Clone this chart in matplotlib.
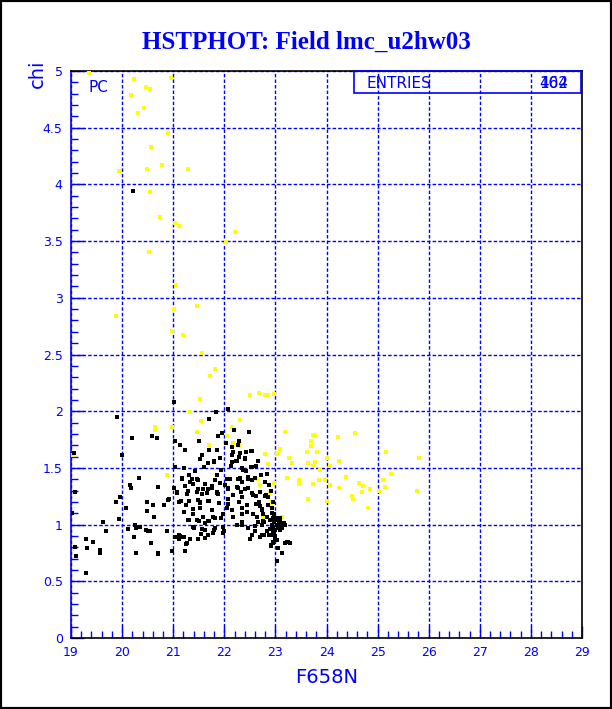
import matplotlib
matplotlib.use("Agg")
import matplotlib.pyplot as plt
from matplotlib.patches import Rectangle
from matplotlib.ticker import MultipleLocator

# chi vs F658N magnitude, yellow = rejected, black = accepted stars
yellow_x = [19.35, 20.23, 20.96, 20.47, 20.55, 20.17, 20.43, 20.31, 20.90, 20.57,
            19.94, 20.49, 20.78, 21.29, 20.55, 20.74, 21.04, 21.11, 22.21, 22.03,
            20.53, 21.05, 21.46, 21.02, 19.88, 20.98, 21.19, 21.56, 21.82, 21.72,
            21.52, 22.50, 22.68, 22.80, 22.86, 22.97, 21.33, 21.54, 22.31, 20.64,
            20.64, 20.98, 21.47, 22.15, 22.05, 21.70, 22.29, 22.29, 23.19, 23.73,
            23.78, 23.70, 23.09, 22.80, 23.03, 23.62, 23.26, 23.32, 23.78, 23.64,
            20.88, 23.73, 23.22, 23.46, 23.46, 23.73, 23.85, 22.64, 22.70, 22.97,
            22.91, 22.89, 23.64, 22.76, 23.13, 22.91, 24.22, 24.56, 23.70, 23.81,
            25.16, 24.01, 24.07, 24.24, 25.81, 23.87, 25.26, 23.97, 24.38, 24.07,
            24.24, 24.64, 24.71, 25.10, 25.14, 25.03, 24.85, 24.69, 24.50, 24.52,
            25.77, 24.01, 24.81, 19.04, 22.17, 22.86]
yellow_y = [4.98, 4.93, 4.94, 4.86, 4.84, 4.79, 4.67, 4.63, 4.45, 4.33,
            4.12, 4.14, 4.17, 4.14, 3.93, 3.71, 3.66, 3.63, 3.58, 3.49,
            3.40, 3.11, 2.93, 2.90, 2.84, 2.71, 2.67, 2.51, 2.37, 2.31,
            2.11, 2.14, 2.16, 2.14, 2.14, 2.15, 1.99, 1.91, 1.92, 1.86,
            1.83, 1.86, 1.82, 1.86, 1.78, 1.70, 1.71, 1.69, 1.82, 1.79,
            1.78, 1.74, 1.67, 1.62, 1.62, 1.64, 1.59, 1.54, 1.55, 1.54,
            1.44, 1.52, 1.41, 1.39, 1.36, 1.36, 1.39, 1.40, 1.35, 1.37,
            1.20, 1.28, 1.23, 1.07, 1.07, 1.16, 1.77, 1.81, 1.69, 1.64,
            1.64, 1.59, 1.52, 1.56, 1.59, 1.48, 1.45, 1.39, 1.42, 1.35,
            1.32, 1.37, 1.34, 1.39, 1.33, 1.30, 1.31, 1.29, 1.25, 1.23,
            1.30, 1.21, 1.15, 1.61, 1.72, 1.53]

black_x = [20.21, 19.90, 20.19, 20.59, 20.68, 19.06, 20.00, 20.33, 20.15, 20.18,
           20.70, 19.08, 19.96, 19.88, 20.49, 20.60, 20.82, 20.08, 20.49, 19.02,
           20.62, 19.94, 19.63, 20.12, 20.27, 20.33, 20.47, 19.68, 20.55, 20.23,
           19.29, 19.43, 20.57, 19.08, 19.31, 19.57, 19.57, 20.27, 20.70, 19.10,
           19.29, 21.02, 21.84, 22.07, 21.70, 22.48, 21.96, 21.04, 21.13, 21.50,
           21.23, 21.86, 22.52, 22.17, 21.56, 22.31, 22.23, 22.41, 22.66, 21.68,
           21.80, 21.94, 21.04, 21.21, 21.60, 22.13, 22.37, 22.54, 20.33, 21.43,
           21.17, 21.31, 21.47, 21.86, 22.05, 22.31, 22.46, 22.60, 22.72, 20.15,
           20.70, 21.39, 21.58, 21.76, 21.92, 22.07, 22.25, 22.41, 21.07, 21.27,
           21.47, 21.66, 21.86, 22.17, 22.35, 22.56, 22.70, 22.80, 20.92, 21.11,
           21.31, 21.52, 21.70, 21.90, 22.07, 22.29, 22.44, 22.62, 22.74, 21.21,
           21.39, 21.58, 21.78, 21.98, 22.17, 22.35, 22.64, 22.84, 22.95, 21.31,
           21.50, 21.70, 22.76, 22.89, 20.35, 21.39, 21.62, 21.82, 21.98, 22.35,
           22.60, 22.74, 22.89, 23.03, 23.13, 23.19, 23.09, 22.95, 22.78, 22.54,
           22.50, 22.70, 22.87, 22.99, 21.98, 21.78, 21.54, 21.11, 21.19, 20.88,
           20.51, 20.25, 19.63, 21.11, 21.49, 21.62, 21.27, 22.95, 22.91, 22.99,
           23.22, 23.28, 23.13, 23.03, 20.98, 20.70, 21.23, 20.57, 21.88, 22.19,
           22.03, 21.70, 22.15, 21.92, 22.15, 21.52, 21.68, 21.80, 22.15, 22.29,
           22.27, 22.43, 22.54, 22.29, 22.41, 22.25, 22.66, 22.62, 22.35, 22.52,
           22.43, 22.27, 22.35, 22.46, 22.54, 22.27, 22.33, 22.46, 22.54, 22.62,
           22.68, 22.70, 22.74, 22.76, 22.82, 22.86, 22.86, 22.93, 22.97, 23.03,
           23.09, 23.15, 23.13, 23.05, 22.99, 22.93, 22.95, 22.91, 23.03, 23.19,
           23.25, 23.05, 23.13, 22.35, 22.44, 22.56, 22.46, 22.60, 22.74, 22.84,
           22.25, 22.35, 22.66, 22.78, 21.17, 21.37, 21.49, 21.82, 22.11, 21.33,
           21.62, 21.76, 22.01, 21.23, 21.02, 21.07, 21.29, 21.49, 21.68, 21.86,
           22.07, 21.56, 21.88, 20.90, 21.15, 21.49, 21.52, 21.68, 22.07, 21.25,
           21.39, 21.52, 21.76, 21.82, 21.94, 22.05, 22.15, 21.29, 21.47, 21.68,
           21.62, 21.41, 21.56, 21.80, 21.99, 21.13, 21.21, 21.68, 21.33, 21.04,
           21.25, 20.98, 22.97, 23.01, 23.07, 23.11, 23.17, 22.99, 23.05, 23.09,
           22.93, 22.95, 22.97, 22.94, 22.96, 22.92, 23.00, 22.88, 22.84, 22.80]
black_y = [3.94, 1.95, 1.76, 1.78, 1.76, 1.63, 1.61, 1.41, 1.35, 1.32,
           1.33, 1.29, 1.24, 1.20, 1.20, 1.17, 1.17, 1.15, 1.12, 1.10,
           1.07, 1.05, 1.02, 0.96, 0.97, 0.98, 0.95, 0.94, 0.94, 0.89,
           0.87, 0.85, 0.84, 0.80, 0.79, 0.78, 0.75, 0.75, 0.74, 0.72,
           0.57, 2.08, 1.99, 2.02, 1.93, 1.82, 1.81, 1.74, 1.70, 1.74,
           1.66, 1.66, 1.65, 1.64, 1.61, 1.63, 1.56, 1.59, 1.56, 1.54,
           1.56, 1.48, 1.51, 1.50, 1.51, 1.52, 1.48, 1.51, 1.41, 1.47,
           1.41, 1.44, 1.40, 1.44, 1.40, 1.41, 1.42, 1.41, 1.44, 1.35,
           1.33, 1.36, 1.31, 1.32, 1.37, 1.32, 1.33, 1.31, 1.28, 1.27,
           1.29, 1.28, 1.28, 1.26, 1.24, 1.26, 1.29, 1.25, 1.23, 1.20,
           1.21, 1.19, 1.21, 1.19, 1.18, 1.20, 1.17, 1.18, 1.14, 1.11,
           1.09, 1.07, 1.07, 1.09, 1.07, 1.09, 1.07, 1.07, 1.06, 1.04,
           1.03, 1.03, 1.03, 1.04, 0.98, 0.98, 0.95, 0.97, 0.98, 1.00,
           0.99, 1.00, 0.96, 1.00, 0.98, 1.00, 0.95, 0.94, 0.91, 0.91,
           0.87, 0.89, 0.91, 0.89, 0.93, 0.93, 0.92, 0.91, 0.89, 0.94,
           0.94, 1.00, 1.02, 0.87, 0.87, 0.88, 0.84, 0.84, 0.81, 0.86,
           0.85, 0.84, 0.75, 0.68, 0.77, 0.75, 0.77, 0.84, 1.78, 1.83,
           1.72, 1.66, 1.68, 1.59, 1.61, 1.58, 1.54, 1.55, 1.55, 1.74,
           1.70, 1.64, 1.65, 1.60, 1.58, 1.56, 1.56, 1.52, 1.50, 1.51,
           1.47, 1.40, 1.38, 1.40, 1.39, 1.32, 1.29, 1.32, 1.28, 1.25,
           1.20, 1.16, 1.13, 1.09, 1.26, 1.24, 1.17, 1.15, 1.09, 1.06,
           1.02, 1.00, 0.97, 1.00, 0.95, 0.91, 0.85, 0.82, 0.86, 0.84,
           0.85, 0.79, 0.75, 1.15, 1.11, 1.09, 0.97, 0.94, 0.91, 0.94,
           1.00, 1.02, 1.02, 1.02, 1.40, 1.40, 1.39, 1.39, 1.40, 1.38,
           1.36, 1.34, 1.35, 1.34, 1.32, 1.29, 1.30, 1.31, 1.31, 1.29,
           1.31, 1.27, 1.27, 1.22, 1.21, 1.22, 1.20, 1.21, 1.23, 1.17,
           1.14, 1.15, 1.13, 1.06, 1.06, 1.15, 1.13, 1.04, 1.04, 1.03,
           1.01, 0.97, 0.96, 0.95, 0.94, 0.90, 0.89, 0.91, 0.87, 0.89,
           0.83, 0.77, 1.02, 1.04, 1.03, 0.99, 1.01, 1.05, 0.97, 1.06,
           1.00, 0.98, 0.93, 1.10, 1.20, 1.30, 0.90, 1.35, 1.45, 1.38]

entries_a = "404"
entries_b = "162"

BLUE = "#0000ff"

fig = plt.figure(figsize=(6.12, 7.09), dpi=100)
ax = fig.add_axes([71 / 612, 71 / 709, 511 / 612, 567 / 709])

ax.scatter(yellow_x, yellow_y, s=5, marker="s", color="#ffff00", linewidths=0, zorder=3)
ax.scatter(black_x, black_y, s=5, marker="s", color="black", linewidths=0, zorder=4)

ax.set_xlim(19, 29)
ax.set_ylim(0, 5)
ax.xaxis.set_major_locator(MultipleLocator(1))
ax.xaxis.set_minor_locator(MultipleLocator(0.2))
ax.yaxis.set_major_locator(MultipleLocator(0.5))
ax.yaxis.set_minor_locator(MultipleLocator(0.1))
ax.set_yticks([0, 0.5, 1, 1.5, 2, 2.5, 3, 3.5, 4, 4.5, 5])
ax.set_yticklabels(["0", "0.5", "1", "1.5", "2", "2.5", "3", "3.5", "4", "4.5", "5"])

ax.grid(True, which="major", color=BLUE, linestyle=(0, (2.5, 1.5)), linewidth=1)
ax.tick_params(which="both", direction="in", colors=BLUE, labelcolor=BLUE,
               labelsize=9, top=False, right=False)
ax.tick_params(which="major", length=9, width=1, pad=6)
ax.tick_params(which="minor", length=5, width=1)

for side in ["top", "right", "bottom"]:
    ax.spines[side].set_color("black")
ax.spines["left"].set_color(BLUE)
for sp in ax.spines.values():
    sp.set_linewidth(1.2)

ax.set_xlabel("F658N", color=BLUE, fontsize=14, labelpad=6)
fig.text(37 / 612, 1 - 60 / 709, "chi", color=BLUE, fontsize=14, rotation=90,
         ha="center", va="top")

fig.text(0.5, 1 - 42 / 709, "HSTPHOT: Field lmc_u2hw03", color=BLUE,
         fontsize=18, fontweight="bold", family="Liberation Serif",
         ha="center", va="center")

# PC label and stats box
fig.text(89 / 612, 1 - 88 / 709, "PC", color=BLUE, fontsize=11,
         ha="left", va="center")
box = Rectangle((354 / 612, 1 - 93 / 709), 227 / 612, 22 / 709, transform=fig.transFigure,
                fill=False, edgecolor=BLUE, linewidth=1.2, zorder=5)
fig.patches.append(box)
fig.text(367 / 612, 1 - 83 / 709, "ENTRIES", color=BLUE, fontsize=11,
         ha="left", va="center")
fig.text(554 / 612, 1 - 83 / 709, entries_a, color=BLUE, fontsize=11,
         ha="center", va="center")
fig.text(554 / 612, 1 - 83 / 709, entries_b, color=BLUE, fontsize=11,
         ha="center", va="center")

# outer frame
fig.patches.append(Rectangle((0, 0), 1, 1, transform=fig.transFigure, fill=False,
                             edgecolor="black", linewidth=3))

fig.savefig("out.png", dpi=100)
